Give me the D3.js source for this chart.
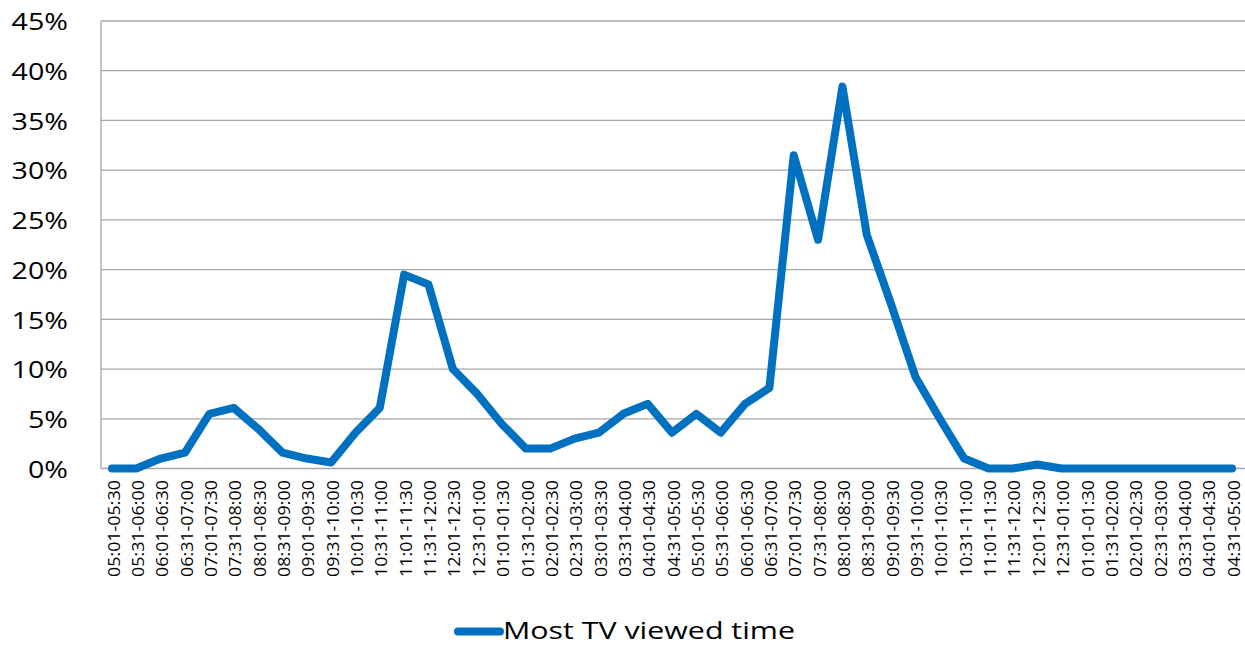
<!DOCTYPE html>
<html>
<head>
<meta charset="utf-8">
<script src="https://cdn.jsdelivr.net/npm/d3@7"></script>
<style>
  html, body { margin: 0; padding: 0; background: #fff; }
  svg { display: block; }
  text { font-family: "Open Sans", sans-serif; fill: #000; }
</style>
</head>
<body>
<svg id="chart" width="1245" height="646"></svg>
<script>
// Half-hour viewing slots across the day (03:01-03:30 in the early hours is not listed)
const slots = [
  "05:01-05:30","05:31-06:00","06:01-06:30","06:31-07:00","07:01-07:30","07:31-08:00",
  "08:01-08:30","08:31-09:00","09:01-09:30","09:31-10:00","10:01-10:30","10:31-11:00",
  "11:01-11:30","11:31-12:00","12:01-12:30","12:31-01:00","01:01-01:30","01:31-02:00",
  "02:01-02:30","02:31-03:00","03:01-03:30","03:31-04:00","04:01-04:30","04:31-05:00",
  "05:01-05:30","05:31-06:00","06:01-06:30","06:31-07:00","07:01-07:30","07:31-08:00",
  "08:01-08:30","08:31-09:00","09:01-09:30","09:31-10:00","10:01-10:30","10:31-11:00",
  "11:01-11:30","11:31-12:00","12:01-12:30","12:31-01:00","01:01-01:30","01:31-02:00",
  "02:01-02:30","02:31-03:00","03:31-04:00","04:01-04:30","04:31-05:00"
];

// Share of respondents naming each slot as their most-watched time (%)
const viewedShare = [
  0, 0, 1.0, 1.6, 5.5, 6.1, 4.0, 1.6, 1.0, 0.6, 3.6, 6.1,
  19.5, 18.5, 10.0, 7.5, 4.5, 2.0, 2.0, 3.0, 3.6, 5.5, 6.5, 3.6,
  5.5, 3.6, 6.5, 8.1, 31.5, 23.0, 38.4, 23.5, 16.5, 9.2, 5.0, 1.0,
  0, 0, 0.4, 0, 0, 0, 0, 0, 0, 0, 0
];

const yTicks = [0, 5, 10, 15, 20, 25, 30, 35, 40, 45];
const seriesName = "Most TV viewed time";

const svg = d3.select("#chart");
const plot = { left: 101, right: 1245, top: 21, bottom: 468.5 };

const x = d3.scalePoint()
  .domain(d3.range(slots.length))
  .range([99.8, 1244.2])
  .padding(0.5);

const y = d3.scaleLinear()
  .domain([0, 45])
  .range([plot.bottom, plot.top]);

// Horizontal gridlines
svg.append("g")
  .selectAll("line")
  .data(yTicks)
  .join("line")
  .attr("x1", plot.left)
  .attr("x2", plot.right)
  .attr("y1", d => y(d))
  .attr("y2", d => y(d))
  .attr("stroke", "#a6a6a6")
  .attr("stroke-width", 1.3);

// Vertical axis line
svg.append("line")
  .attr("x1", plot.left).attr("x2", plot.left)
  .attr("y1", plot.top).attr("y2", plot.bottom)
  .attr("stroke", "#a6a6a6")
  .attr("stroke-width", 1.3);

// Y-axis labels (slightly widened type)
const yAxis = d3.axisLeft(y)
  .tickValues(yTicks)
  .tickFormat(d => d + "%")
  .tickSize(0)
  .tickPadding(0);

svg.append("g")
  .attr("transform", "translate(68,0) scale(1.17,1)")
  .call(yAxis)
  .call(g => g.select(".domain").remove())
  .call(g => g.selectAll("text")
    .attr("font-family", "Open Sans")
    .attr("font-size", 24.5)
    .attr("fill", "#000")
    .attr("dy", "0.36em"));

// X-axis labels, rotated
svg.append("g")
  .selectAll("text")
  .data(slots)
  .join("text")
  .attr("transform", (d, i) => `translate(${x(i) + 2},480) rotate(-90)`)
  .attr("text-anchor", "end")
  .attr("dy", "0.36em")
  .attr("font-size", 15.5)
  .attr("textLength", 97)
  .attr("lengthAdjust", "spacingAndGlyphs")
  .text(d => d);

// Series line
const line = d3.line()
  .x((d, i) => x(i))
  .y(d => y(d));

svg.append("path")
  .datum(viewedShare)
  .attr("d", line)
  .attr("fill", "none")
  .attr("stroke", "#0070c0")
  .attr("stroke-width", 8)
  .attr("stroke-linejoin", "round")
  .attr("stroke-linecap", "round");

// Legend
const legend = svg.append("g");
legend.append("line")
  .attr("x1", 458).attr("x2", 500)
  .attr("y1", 631.5).attr("y2", 631.5)
  .attr("stroke", "#0070c0")
  .attr("stroke-width", 8)
  .attr("stroke-linecap", "round");
legend.append("text")
  .attr("x", 503)
  .attr("y", 638.5)
  .attr("font-size", 23.4)
  .attr("textLength", 292)
  .attr("lengthAdjust", "spacingAndGlyphs")
  .text(seriesName);
</script>
</body>
</html>
